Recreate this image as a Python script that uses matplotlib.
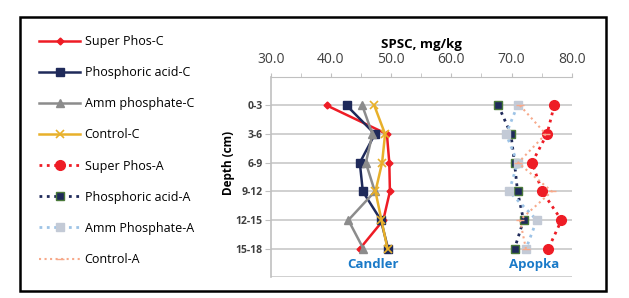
import matplotlib.pyplot as plt
from matplotlib.patches import Rectangle

# depth classes and SPSC values (mg/kg)
depths = ['0-3', '3-6', '6-9', '9-12', '12-15', '15-18']

super_phos_c = [39.3, 49.3, 49.7, 49.8, 48.7, 44.8]
phos_acid_c = [42.6, 47.3, 44.8, 45.3, 48.3, 49.5]
amm_phos_c = [45.2, 46.9, 45.8, 47.3, 42.9, 45.4]
control_c = [47.2, 49.0, 48.5, 47.4, 48.4, 49.4]

super_phos_a = [77.1, 75.9, 73.4, 75.1, 78.3, 76.1]
phos_acid_a = [67.8, 69.9, 70.5, 71.0, 72.0, 70.5]
amm_phos_a = [71.0, 69.1, 71.0, 69.6, 74.2, 72.4]
control_a = [71.4, 75.7, 71.1, 76.7, 71.4, 72.4]

xticks = [30, 40, 50, 60, 70, 80]

plt.rcParams['font.family'] = ['Open Sans', 'DejaVu Sans']

fig = plt.figure(figsize=(6.29, 2.98), dpi=100)
ax = fig.add_axes([0.4304, 0.0688, 0.4785, 0.6738])

ypos = list(range(len(depths)))

ax.plot(super_phos_c, ypos, color='#ee1c25', lw=1.8, marker='D', ms=3.5,
        label='Super Phos-C')
ax.plot(phos_acid_c, ypos, color='#1f2a5a', lw=1.8, marker='s', ms=5.5,
        label='Phosphoric acid-C')
ax.plot(amm_phos_c, ypos, color='#8c8c8c', lw=1.8, marker='^', ms=5.5,
        label='Amm phosphate-C')
ax.plot(control_c, ypos, color='#e8b02a', lw=1.8, marker='x', ms=5.5, mew=1.2,
        label='Control-C')

ax.plot(super_phos_a, ypos, color='#ee1c25', lw=2, ls=':', marker='o', ms=7,
        label='Super Phos-A')
ax.plot(phos_acid_a, ypos, color='#1f2a5a', lw=2, ls=':', marker='s', ms=5.5,
        mec='#4a7a3a', label='Phosphoric acid-A')
ax.plot(amm_phos_a, ypos, color='#9dc3e6', lw=2, ls=':', marker='s', ms=5.5,
        mfc='#c3cad6', mec='#c3cad6', label='Amm Phosphate-A')
ax.plot(control_a, ypos, color='#f7a98a', lw=1.5, ls=':', marker='_', ms=6,
        label='Control-A')

ax.set_xlim(30, 80)
ax.set_ylim(6, -1)
ax.set_yticks(ypos)
ax.set_yticklabels(depths)
ax.set_xticks(xticks)
ax.set_xticklabels(['%.1f' % v for v in xticks])
ax.set_xticks([35, 45, 55, 65, 75], minor=True)
ax.xaxis.tick_top()
ax.xaxis.set_label_position('top')
ax.tick_params(axis='x', which='both', length=3, color='#c0c0c0', labelsize=10,
               labelcolor='#404040', pad=4)
ax.tick_params(axis='y', length=4, color='#c0c0c0', labelsize=7.5, pad=2)
for lab in ax.get_yticklabels():
    lab.set_fontweight('bold')
    lab.set_color('#404040')

for y in range(7):
    ax.axhline(y, color='#c8c8c8', lw=1.2, zorder=0)

for s in ['right', 'bottom']:
    ax.spines[s].set_visible(False)
ax.spines['left'].set_color('#c0c0c0')
ax.spines['top'].set_color('#c0c0c0')
ax.spines['left'].set_linewidth(1.2)

ax.set_xlabel('SPSC, mg/kg', fontsize=9.5, fontweight='bold', labelpad=3)
ax.set_ylabel('Depth (cm)', fontsize=8.5, fontweight='bold')
ax.yaxis.set_label_coords(-0.118, 0.57)

ax.text(47, 5.55, 'Candler', color='#1a7ac8', fontsize=9.5, fontweight='bold',
        ha='center', va='center')
ax.text(73.8, 5.55, 'Apopka', color='#1a7ac8', fontsize=9.5, fontweight='bold',
        ha='center', va='center')

fig.legend(loc='upper left', bbox_to_anchor=(0.044, 0.92), frameon=False,
           fontsize=9, labelspacing=1.45, handlelength=3.3, handletextpad=0.35)

# outer frame
fig.patches.append(Rectangle((0.032, 0.022), 0.932, 0.922, transform=fig.transFigure,
                             fill=False, edgecolor='black', lw=1.8))

fig.savefig('out.png', dpi=100)
